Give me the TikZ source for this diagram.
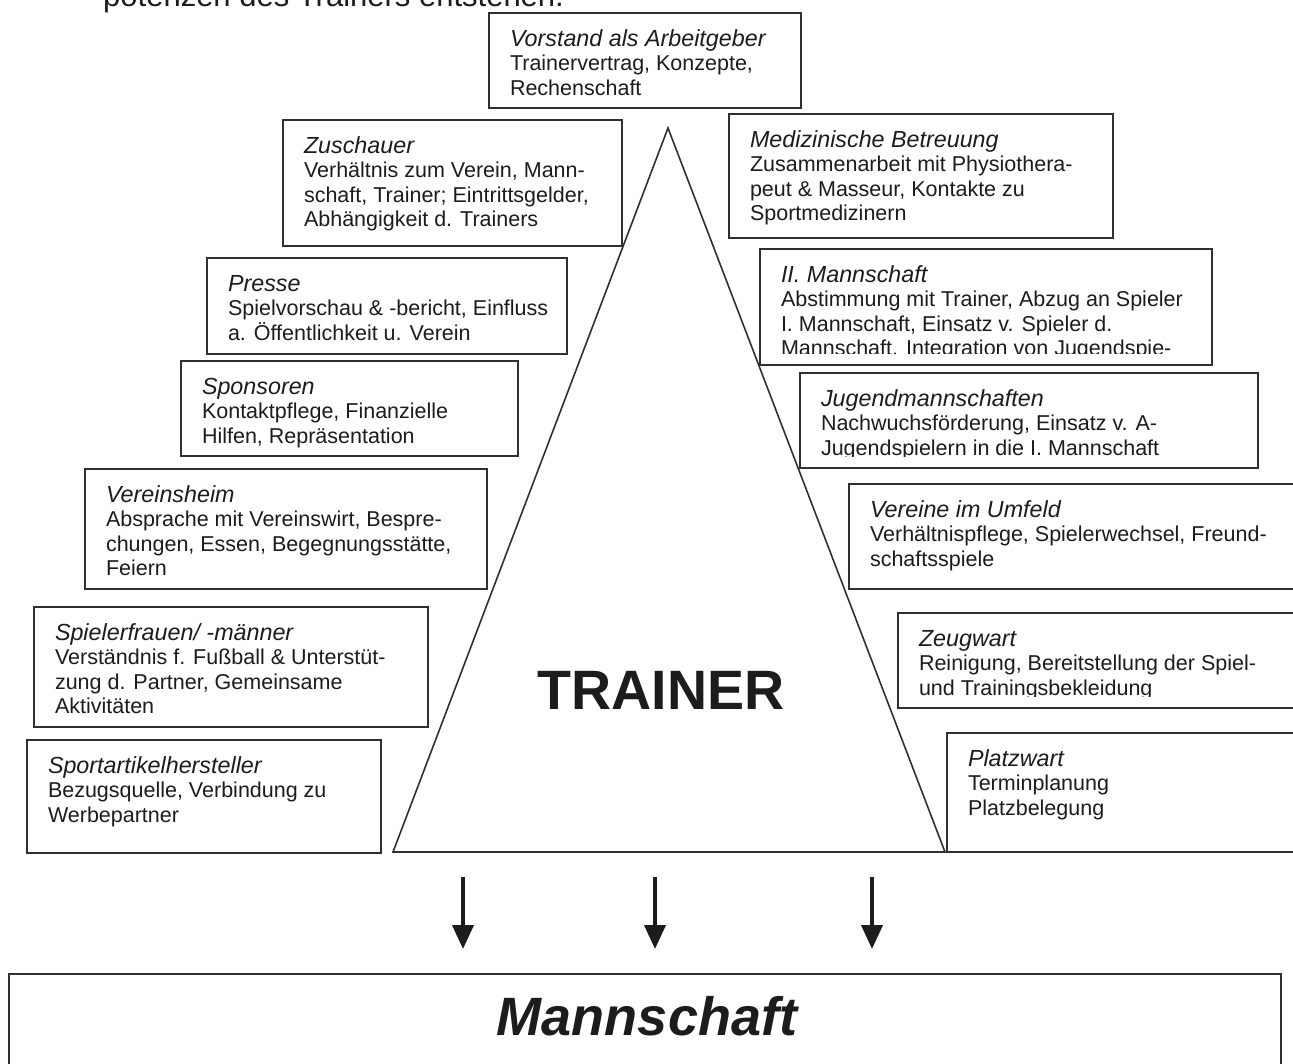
\documentclass[tikz,border=0pt]{standalone}
\usepackage{fontspec}
\setmainfont{Liberation Sans}
\usetikzlibrary{arrows.meta}
\definecolor{ink}{HTML}{1C1C1C}
\definecolor{rule}{HTML}{303030}
\tikzset{
  kbox/.style={draw=rule, line width=1.6pt, fill=white, inner sep=0pt, outer sep=0pt},
  ktext/.style={inner sep=0pt, outer sep=0pt, text=ink, font=\fontsize{21.5}{24.5}\selectfont},
  tri/.style={draw=rule, line width=1.6pt},
  bigarrow/.style={draw=ink, line width=4pt, -{Triangle[width=21pt,length=24pt]}},
}
\newcommand{\ktitle}[1]{{\itshape\fontsize{23.3}{24.5}\selectfont #1}\\}
% #1 clip inset at bottom, #2 name, #3 x, #4 y, #5 width, #6 height, #7 text
\newcommand{\kasten}[7][3]{%
  \node[kbox, minimum width=#5pt, minimum height=#6pt, anchor=north west] (#2) at (#3,#4) {};
  \begin{scope}
    \clip (#2.north west) rectangle ([yshift=#1pt]#2.south east);
    \node[ktext, anchor=base west] (#2-t) at ([xshift=21pt,yshift=-33pt]#2.north west)
      {\parbox[t]{700pt}{\raggedright #7}};
  \end{scope}}
\begin{document}
\begin{tikzpicture}[x=1pt,y=-1pt]
\clip (0,0) rectangle (1293,1063);
\fill[white] (0,0) rectangle (1293,1063);

% cut-off line of running text at the top
\node[anchor=base west, inner sep=0pt, text=ink, font=\fontsize{31}{36}\selectfont] (top) at (103,6)
  {potenzen des Trainers entstehen.};

% triangle
\coordinate (apex) at (668,128);
\coordinate (bl) at (393,852);
\coordinate (br) at (945,852);
\draw[tri] (bl) -- (apex) -- (br) -- cycle;

\node[inner sep=0pt, text=ink, font=\bfseries\fontsize{55.5}{60}\selectfont, anchor=base] (trainer) at (661,709) {TRAINER};

% boxes
\kasten{vor}{489}{13}{312}{95}{\ktitle{Vorstand als Arbeitgeber}Trainervertrag, Konzepte,\\Rechenschaft}
\kasten{zus}{283}{120}{339}{126}{\ktitle{Zuschauer}Verhältnis zum Verein, Mann-\\schaft, Trainer; Eintrittsgelder,\\Abhängigkeit d. Trainers}
\kasten{med}{729}{114}{384}{124}{\ktitle{Medizinische Betreuung}Zusammenarbeit mit Physiothera-\\peut \& Masseur, Kontakte zu\\Sportmedizinern}
\kasten{pre}{207}{258}{360}{96}{\ktitle{Presse}Spielvorschau \& -bericht, Einfluss\\a. Öffentlichkeit u. Verein}
\kasten[12]{iim}{760}{249}{452}{116}{\ktitle{II. Mannschaft}Abstimmung mit Trainer, Abzug an Spieler\\I. Mannschaft, Einsatz v. Spieler d.\\Mannschaft. Integration von Jugendspie-\\lern}
\kasten{spo}{181}{361}{337}{95}{\ktitle{Sponsoren}Kontaktpflege, Finanzielle\\Hilfen, Repräsentation}
\kasten[12]{jug}{800}{373}{458}{95}{\ktitle{Jugendmannschaften}Nachwuchsförderung, Einsatz v. A-\\Jugendspielern in die I. Mannschaft}
\kasten{vhe}{85}{469}{402}{120}{\ktitle{Vereinsheim}Absprache mit Vereinswirt, Bespre-\\chungen, Essen, Begegnungsstätte,\\Feiern}
\kasten{vum}{849}{484}{500}{105}{\ktitle{Vereine im Umfeld}Verhältnispflege, Spielerwechsel, Freund-\\schaftsspiele}
\kasten{spf}{34}{607}{394}{120}{\ktitle{Spielerfrauen/ -männer}Verständnis f. Fußball \& Unterstüt-\\zung d. Partner, Gemeinsame\\Aktivitäten}
\kasten[12]{zeu}{898}{613}{450}{95}{\ktitle{Zeugwart}Reinigung, Bereitstellung der Spiel-\\und Trainingsbekleidung}
\kasten{spa}{27}{740}{354}{113}{\ktitle{Sportartikelhersteller}Bezugsquelle, Verbindung zu\\Werbepartner}
\kasten{pla}{947}{733}{400}{119}{\ktitle{Platzwart}Terminplanung\\Platzbelegung}

% team box
\node[draw=rule, line width=2.4pt, fill=white, inner sep=0pt, minimum width=1272pt, minimum height=140pt, anchor=north west] (team) at (8,973) {};
\node[inner sep=0pt, text=ink, font=\bfseries\itshape\fontsize{54}{60}\selectfont, anchor=base] (teamlabel) at (647,1035) {Mannschaft};

% arrows
\coordinate (a1) at (463,877); \coordinate (b1) at (463,949);
\coordinate (a2) at (655,877); \coordinate (b2) at (655,949);
\coordinate (a3) at (872,877); \coordinate (b3) at (872,949);
\draw[bigarrow] (a1) -- (b1);
\draw[bigarrow] (a2) -- (b2);
\draw[bigarrow] (a3) -- (b3);
\end{tikzpicture}
\end{document}
